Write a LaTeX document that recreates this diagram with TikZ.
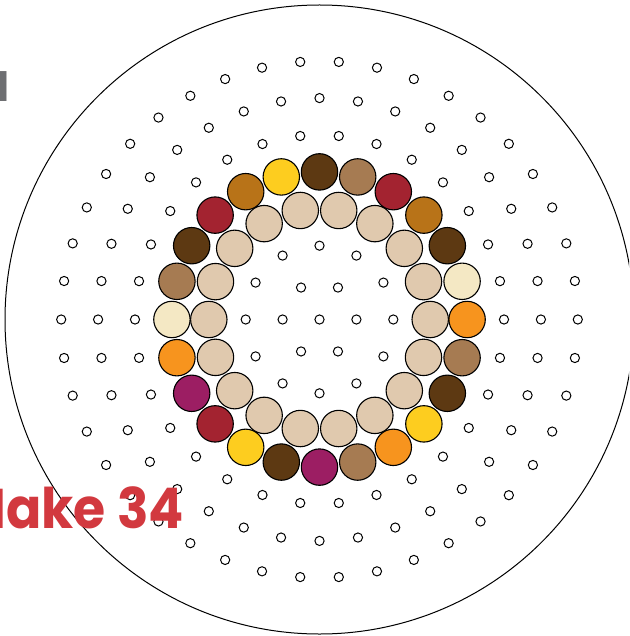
\documentclass[tikz,border=0pt]{standalone}
\usepackage{fontspec}
\newfontfamily\boardfont{Poppins}
\definecolor{beadtan}{HTML}{E0C9AE}
\definecolor{beadyellow}{HTML}{FDCD1F}
\definecolor{beaddark}{HTML}{5D3912}
\definecolor{beadbrown}{HTML}{A67B52}
\definecolor{beadred}{HTML}{A32330}
\definecolor{beadocher}{HTML}{B87318}
\definecolor{beadcream}{HTML}{F4E8C4}
\definecolor{beadorange}{HTML}{F7941E}
\definecolor{beadplum}{HTML}{9C1E63}
\definecolor{titlered}{HTML}{D2393F}
\definecolor{labelgrey}{HTML}{6E6F72}

\begin{document}
\begin{tikzpicture}[x=1pt,y=-1pt,
  peg/.style={draw=black,line width=1pt,fill=white},
  bead/.style={draw=black,line width=1.1pt},
  boardtext/.style={font=\boardfont\bfseries\fontsize{56}{56}\selectfont,anchor=base east,inner sep=0pt}]
\useasboundingbox (0,0) rectangle (629,636);
\clip (0,0) rectangle (629,636);
\coordinate (centre) at (319.5,319.5);
% board outline
\draw[line width=1pt] (centre) circle (314.5);
% empty pegs
\draw[peg] (centre) circle (4.6);
\foreach \ring in {1,2,5,6,7} {
  \pgfmathtruncatemacro\last{6*\ring-1}
  \foreach \k in {0,...,\last}
    \draw[peg] (centre) ++({-360*\k/(6*\ring)}:{36.9*\ring}) circle (4.6);
}
% inner ring of beads
\foreach \k in {0,...,17}
  \draw[bead,fill=beadtan] (centre) ++(-20*\k:110.7) circle (18.2);
% outer ring of beads
\foreach \col [count=\k from 0] in {beadorange,beadcream,beaddark,beadocher,beadred,beadbrown,
    beaddark,beadyellow,beadocher,beadred,beaddark,beadbrown,beadcream,beadorange,beadplum,
    beadred,beadyellow,beaddark,beadplum,beadbrown,beadorange,beadyellow,beaddark,beadbrown}
  \draw[bead,fill=\col] (centre) ++(-15*\k:147.6) circle (18.2);
% labels
\node[boardtext,text=titlered,xscale=0.93] (title) at (184,528) {Make 34};
\node[boardtext,text=labelgrey,font=\boardfont\bfseries\fontsize{41}{41}\selectfont] (level) at (10,102) {1};
\end{tikzpicture}
\end{document}
